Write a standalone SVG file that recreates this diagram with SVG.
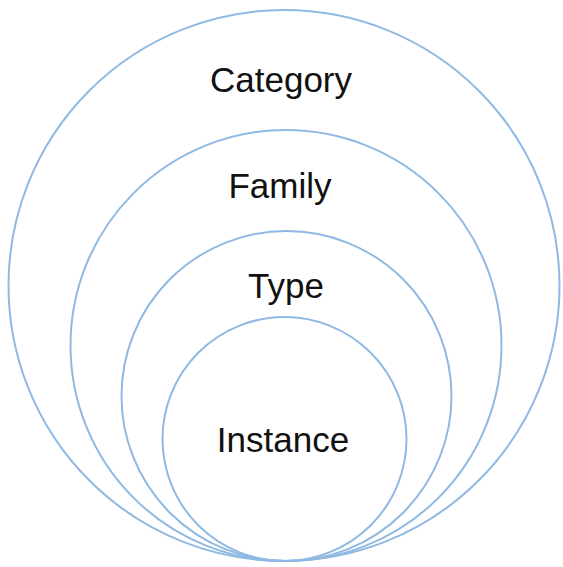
<svg xmlns="http://www.w3.org/2000/svg" width="563" height="567" viewBox="0 0 563 567">
<style>
.ring{fill:none;stroke:#8fb9e3;stroke-width:2}
.lbl{font-family:"Liberation Sans",Arial,sans-serif;font-size:35px;fill:#111111;text-anchor:middle}
</style>
<rect width="563" height="567" fill="#ffffff"/>
<g id="category">
<circle class="ring" cx="284" cy="285.5" r="275.5"/>
<text class="lbl" x="281" y="92">Category</text>
</g>
<g id="family">
<circle class="ring" cx="286" cy="345.5" r="215.5"/>
<text class="lbl" x="280" y="198">Family</text>
</g>
<g id="type">
<circle class="ring" cx="286.5" cy="396" r="165"/>
<text class="lbl" x="286" y="298">Type</text>
</g>
<g id="instance">
<circle class="ring" cx="284.5" cy="439" r="122"/>
<text class="lbl" x="283" y="452">Instance</text>
</g>
<g id="connectors"/>
</svg>
